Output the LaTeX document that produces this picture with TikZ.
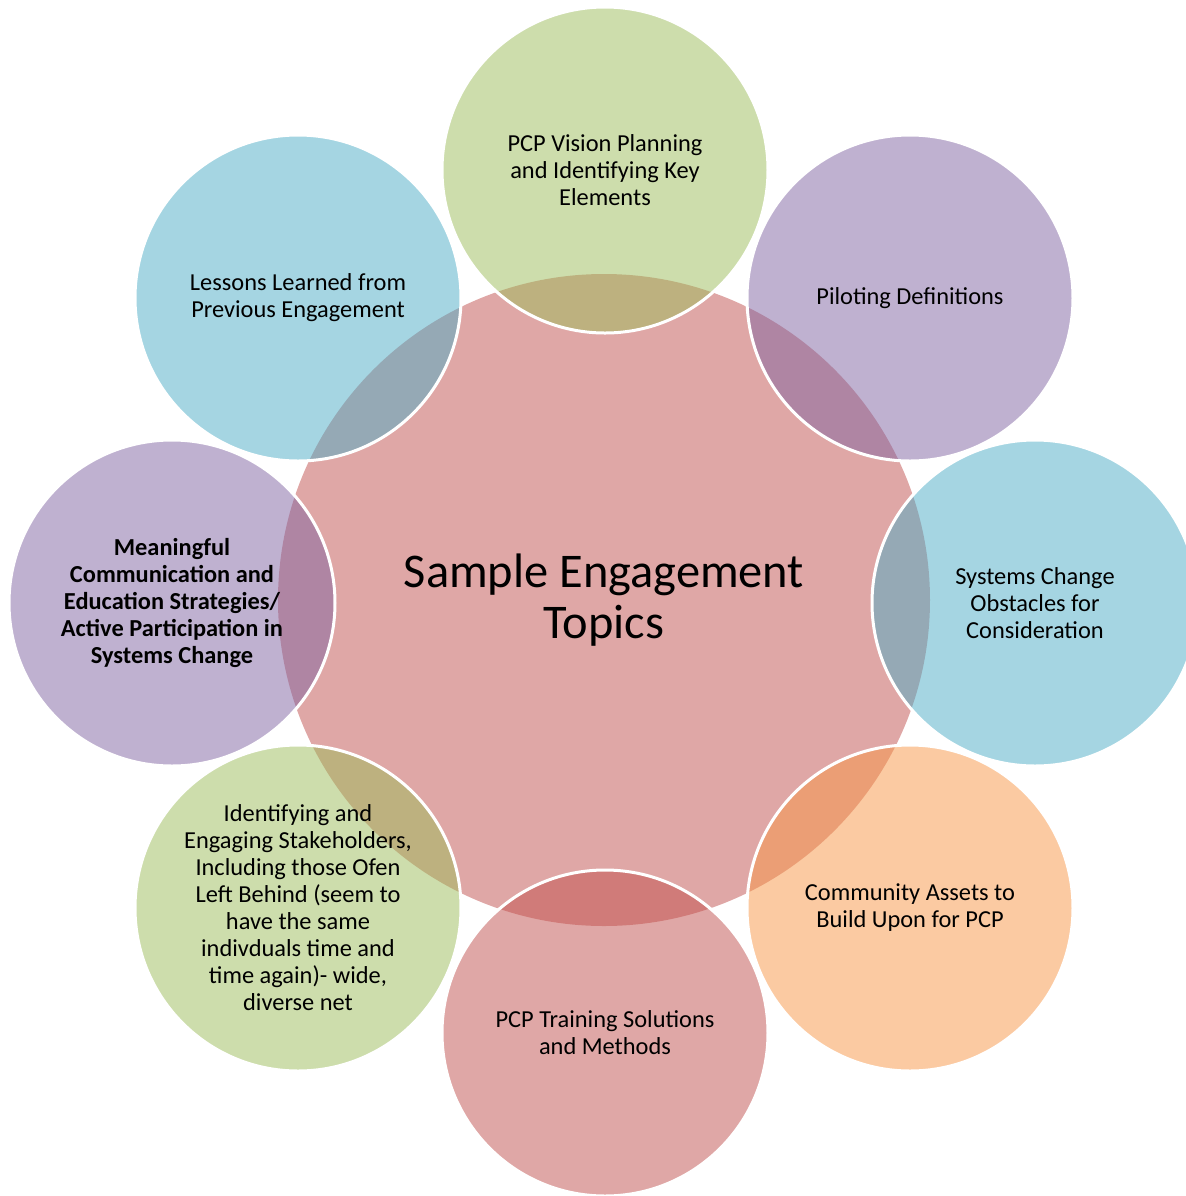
\documentclass[tikz,border=0pt]{standalone}
\usepackage{fontspec}
\setmainfont{Carlito}
\definecolor{topicred}{HTML}{C0504D}
\definecolor{topicgreen}{HTML}{9BBB59}
\definecolor{topicpurple}{HTML}{8064A2}
\definecolor{topicblue}{HTML}{4BACC6}
\definecolor{topicorange}{HTML}{F79646}
\tikzset{
  hub/.style={circle, minimum size=326pt, inner sep=0pt, fill=topicred, fill opacity=0.5, text opacity=1, align=center, font=\fontsize{24.2}{25.5}\selectfont},
  topic/.style={circle, minimum size=163pt, inner sep=0pt, draw=white, line width=1.5pt, fill opacity=0.5, text opacity=1, align=center, font=\fontsize{12.2}{13.5}\selectfont}
}

\begin{document}
\begin{tikzpicture}[x=0.5pt,y=-0.5pt]
\useasboundingbox (0,0) rectangle (1186,1196);

\node (hub) [hub] at (604,600) {Sample Engagement\\Topics};

\node (vision) [topic, fill=topicgreen] at (605,170) {PCP Vision Planning\\and Identifying Key\\Elements};
\node (piloting) [topic, fill=topicpurple] at (910,298) {Piloting Definitions};
\node (obstacles) [topic, fill=topicblue] at (1035,603) {Systems Change\\Obstacles for\\Consideration};
\node (assets) [topic, fill=topicorange] at (910,908) {Community Assets to\\Build Upon for PCP};
\node (training) [topic, fill=topicred] at (605,1033) {PCP Training Solutions\\and Methods};
\node (stakeholders) [topic, fill=topicgreen] at (298,908) {Identifying and\\Engaging Stakeholders,\\Including those Ofen\\Left Behind (seem to\\have the same\\indivduals time and\\time again)- wide,\\diverse net};
\node (communication) [topic, fill=topicpurple, font=\fontsize{12.2}{13.5}\selectfont\bfseries] at (172,603) {Meaningful\\Communication and\\Education Strategies/\\Active Participation in\\Systems Change};
\node (lessons) [topic, fill=topicblue] at (298,298) {Lessons Learned from\\Previous Engagement};
\end{tikzpicture}
\end{document}
